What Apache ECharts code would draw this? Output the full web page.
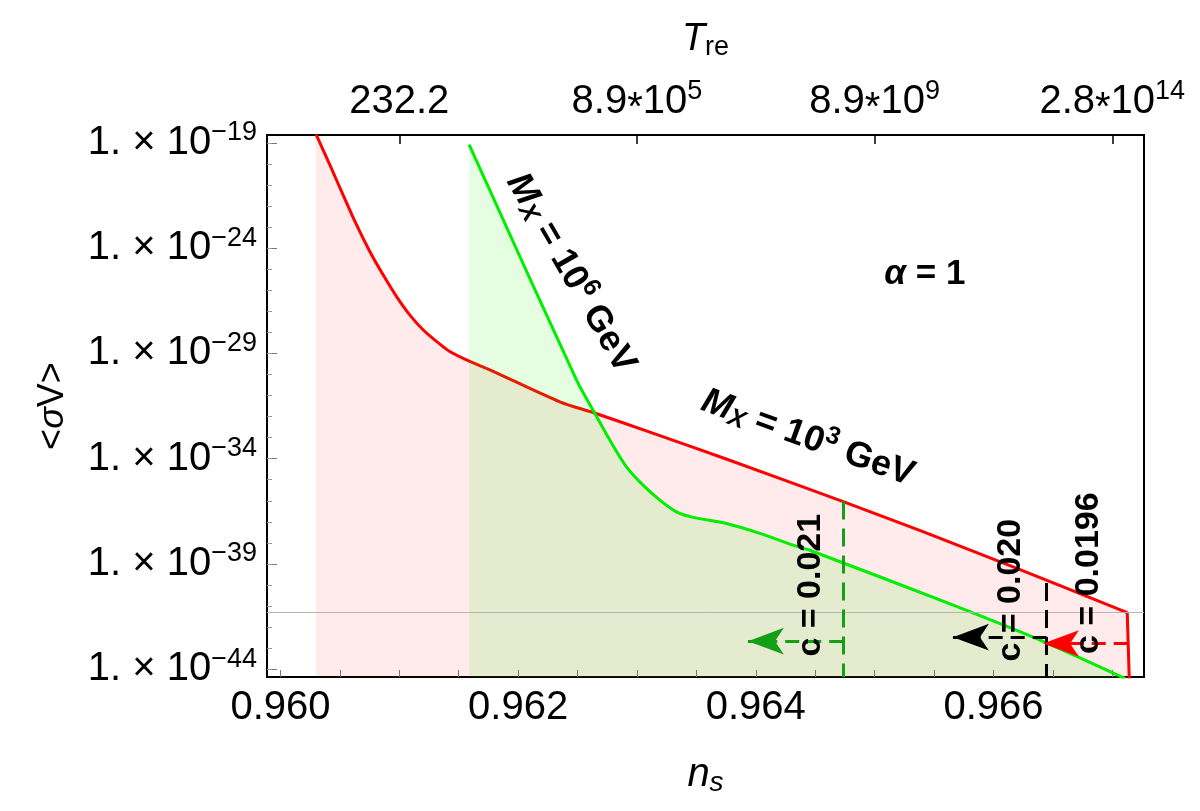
<!DOCTYPE html>
<html>
<head>
<meta charset="utf-8">
<script src="https://cdn.jsdelivr.net/npm/echarts@6/dist/echarts.min.js"></script>
<style>
  html, body { margin: 0; padding: 0; background: #fff; }
  #chart { width: 1200px; height: 811px; }
</style>
</head>
<body>
<div id="chart"></div>
<script>
var FONT = '"Liberation Sans", Arial, Helvetica, sans-serif';

// M_X = 10^3 GeV : n_s and log10 <σv>
var redNs  = [0.96030, 0.960415, 0.960527, 0.960640, 0.960752, 0.960864, 0.960976, 0.961088, 0.961200,
              0.961313, 0.961425, 0.961593, 0.961762, 0.962351, 0.962631, 0.963109, 0.963757, 0.964736,
              0.965407, 0.966139, 0.967126, 0.967143];
var redLog = [-18.60, -20.04, -21.47, -22.89, -24.16, -25.27, -26.29, -27.17, -27.88,
              -28.43, -28.91, -29.38, -29.78, -31.30, -31.81, -32.74, -34.03, -36.04,
              -37.47, -39.08, -41.31, -44.45];

// M_X = 10^6 GeV
var greenNs  = [0.961588, 0.962492, 0.962631, 0.962772, 0.962912, 0.963052, 0.963193, 0.963333,
                0.963473, 0.963754, 0.964035, 0.964315, 0.964455, 0.965662, 0.966392, 0.967110];
var greenLog = [-19.09, -30.27, -31.70, -33.12, -34.39, -35.26, -35.97, -36.53,
                -36.79, -37.08, -37.55, -38.11, -38.35, -40.96, -42.62, -44.45];

// axes
var nsMin = 0.959887, nsMax = 0.967267;
var logMin = -44.37, logMax = -18.63;
var nsTicks = [0.960, 0.962, 0.964, 0.966];
var nsMinorTicks = [0.9600, 0.9605, 0.9610, 0.9615, 0.9620, 0.9625, 0.9630, 0.9635,
                    0.9640, 0.9645, 0.9650, 0.9655, 0.9660, 0.9665, 0.9670];
var treTicks = [0.961, 0.963, 0.965, 0.967];
var treMant = ['232.2', '8.9', '8.9', '2.8'];
var treExp  = ['', '5', '9', '14'];
var sigmaTicks = [-44, -39, -34, -29, -24, -19];
var sigmaMinorTicks = [-44, -43, -42, -41, -40, -39, -38, -37, -36, -35, -34, -33, -32,
                       -31, -30, -29, -28, -27, -26, -25, -24, -23, -22, -21, -20, -19];
var refLog = -41.28;

// c cuts: vertical dashed line, horizontal arrow (tip), rotated text
var cutNs     = [0.964736, 0.966448, 0.967130];
var cutTop    = [-36.04, -39.90, null];
var arrowLog  = [-42.67, -42.48, -42.78];
var arrowTip  = [0.963934, 0.965659, 0.966417];
var cutText   = ['c = 0.021', 'c = 0.020', 'c = 0.0196'];
var cutTextNs  = [0.964464, 0.966147, 0.966804];
var cutTextLog = [-40.01, -40.25, -39.44];
var cutColors = ['#14a014', '#000000', '#ff0000'];

// other annotations: M_X = 10^6, M_X = 10^3, alpha
var noteNs  = [0.962444, 0.964439, 0.965423];
var noteLog = [-25.19, -33.03, -25.24];

function zip(a, b) { return a.map(function (v, i) { return [v, b[i]]; }); }
var redPts = zip(redNs, redLog);

var richNum = {
  b: { fontSize: 40, fontFamily: FONT, color: '#000', lineHeight: 56 },
  st: { fontSize: 40, fontFamily: FONT, color: '#000', padding: [13, 0, 0, 0] },
  s: { fontSize: 27, fontFamily: FONT, color: '#000', padding: [0, 0, 20, 0] }
};
var richBold = {
  mi: { fontSize: 36, fontWeight: 'bold', fontStyle: 'italic', fontFamily: FONT, color: '#000' },
  mx: { fontSize: 25, fontWeight: 'bold', fontStyle: 'italic', fontFamily: FONT, color: '#000', padding: [14, 0, 0, 0] },
  b:  { fontSize: 36, fontWeight: 'bold', fontFamily: FONT, color: '#000' },
  sp: { fontSize: 25, fontWeight: 'bold', fontFamily: FONT, color: '#000', padding: [0, 0, 20, 0] },
  a:  { fontSize: 35, fontWeight: 'bold', fontStyle: 'italic', fontFamily: FONT, color: '#000' },
  c:  { fontSize: 35, fontWeight: 'bold', fontFamily: FONT, color: '#000' },
  t:  { fontSize: 34, fontWeight: 'bold', fontFamily: FONT, color: '#000' }
};

var noteFormat = [
  '{mi|M}{mx|X}{b| = 10}{sp|6}{b| GeV}',
  '{mi|M}{mx|X}{b| = 10}{sp|3}{b| GeV}',
  '{a|\u03b1}{c| = 1}'
];
var noteRotate = [-60, -20, 0];

var notes = noteNs.map(function (x, i) {
  return { value: [x, noteLog[i]], label: { formatter: noteFormat[i], rotate: noteRotate[i] } };
});
cutTextNs.forEach(function (x, i) {
  notes.push({ value: [x, cutTextLog[i]], label: { formatter: '{t|' + cutText[i] + '}', rotate: 90 } });
});

var marks = [
  { yAxis: refLog, lineStyle: { color: '#b4b4b4', width: 1, type: 'solid' } }
];
cutNs.forEach(function (x, i) {
  if (cutTop[i] !== null) {
    marks.push([
      { coord: [x, cutTop[i]], lineStyle: { color: cutColors[i], width: 3, type: [18, 9] } },
      { coord: [x, logMin] }
    ]);
  }
  marks.push([
    { coord: [x, arrowLog[i]], lineStyle: { color: cutColors[i], width: 3, type: [14, 8] }, itemStyle: { color: cutColors[i] } },
    { coord: [arrowTip[i], arrowLog[i]], symbol: 'arrow', symbolSize: [20, 36], itemStyle: { color: cutColors[i] } }
  ]);
});

var chart = echarts.init(document.getElementById('chart'));
chart.setOption({
  animation: false,
  backgroundColor: '#fff',
  grid: { left: 267, right: 56, top: 135, bottom: 134, show: true, borderColor: '#000', borderWidth: 2 },
  xAxis: [{
    type: 'value', position: 'bottom', min: nsMin, max: nsMax,
    splitLine: { show: false }, axisLine: { show: false },
    axisTick: { show: true, inside: true, length: 7, customValues: nsMinorTicks, lineStyle: { color: '#777' } },
    axisLabel: {
      customValues: nsTicks, margin: 11, fontSize: 40, fontFamily: FONT, color: '#000',
      formatter: function (v) { return v.toFixed(3); }
    },
    name: '{i|n}{s|s}', nameLocation: 'middle', nameGap: 76,
    nameTextStyle: {
      rich: {
        i: { fontSize: 40, fontStyle: 'italic', fontFamily: FONT, color: '#000' },
        s: { fontSize: 28, fontStyle: 'italic', fontFamily: FONT, color: '#000', padding: [16, 0, 0, 0] }
      }
    }
  }, {
    type: 'value', position: 'top', min: nsMin, max: nsMax,
    splitLine: { show: false }, axisLine: { show: false },
    axisTick: { show: true, inside: true, length: 9, customValues: treTicks, lineStyle: { color: '#000', width: 1.5 } },
    axisLabel: {
      customValues: treTicks, margin: 5, rich: richNum,
      formatter: function (v) {
        for (var i = 0; i < treTicks.length; i++) {
          if (Math.abs(v - treTicks[i]) < 1e-6) {
            if (!treExp[i]) return '{b|' + treMant[i] + '}';
            return '{b|' + treMant[i] + '}{st|*}{b|10}{s|' + treExp[i] + '}';
          }
        }
        return '';
      }
    },
    name: '{i|T}{s|re}', nameLocation: 'middle', nameGap: 74,
    nameTextStyle: {
      rich: {
        i: { fontSize: 38, fontStyle: 'italic', fontFamily: FONT, color: '#000' },
        s: { fontSize: 27, fontFamily: FONT, color: '#000', padding: [16, 0, 0, 0] }
      }
    }
  }],
  yAxis: [{
    type: 'value', min: logMin, max: logMax,
    splitLine: { show: false }, axisLine: { show: false },
    axisTick: { show: true, inside: true, length: 10, customValues: sigmaTicks, lineStyle: { color: '#777' } },
    axisLabel: {
      customValues: sigmaTicks, margin: 10, rich: richNum,
      formatter: function (v) { return '{b|1. \u00d7 10}{s|\u2212' + Math.abs(Math.round(v)) + '}'; }
    },
    name: '<{g|\u03c3}V>', nameLocation: 'middle', nameGap: 196, nameRotate: 90,
    nameTextStyle: {
      fontSize: 36, fontFamily: FONT, color: '#000',
      rich: { g: { fontSize: 36, fontStyle: 'italic', fontFamily: FONT, color: '#000' } }
    }
  }, {
    type: 'value', min: logMin, max: logMax, position: 'left', offset: 0,
    splitLine: { show: false }, axisLine: { show: false }, axisLabel: { show: false },
    axisTick: { show: true, inside: true, length: 5, customValues: sigmaMinorTicks, lineStyle: { color: '#999' } }
  }],
  series: [{
    // red fill
    name: 'Mx = 10^3 GeV fill', type: 'line', data: redPts,
    showSymbol: false, symbol: 'none', clip: true,
    lineStyle: { width: 0, color: 'rgba(0,0,0,0)' },
    areaStyle: { color: 'rgba(255,0,0,0.115)', origin: 'start' },
    z: 2
  }, {
    // red curve
    name: 'Mx = 10^3 GeV', type: 'line', data: redPts.slice(0, -1),
    showSymbol: false, symbol: 'none', clip: true, smooth: 0.3,
    lineStyle: { color: '#ff0000', width: 3 },
    z: 2
  }, {
    // red cut-off edge
    name: 'Mx = 10^3 GeV edge', type: 'line', data: redPts.slice(-2),
    showSymbol: false, symbol: 'none', clip: true,
    lineStyle: { color: '#ff0000', width: 3 },
    z: 2
  }, {
    name: 'Mx = 10^6 GeV', type: 'line', data: zip(greenNs, greenLog),
    showSymbol: false, symbol: 'none', clip: true, smooth: 0.3,
    lineStyle: { color: '#00ee00', width: 3 },
    areaStyle: { color: 'rgba(30,235,0,0.17)', origin: 'start' },
    z: 3
  }, {
    name: 'notes', type: 'scatter', data: notes, symbolSize: 1,
    itemStyle: { color: 'rgba(0,0,0,0)', opacity: 1 },
    label: { show: true, position: 'inside', color: '#000', opacity: 1, textBorderWidth: 0, rich: richBold },
    silent: true, z: 5,
    markLine: {
      silent: true, symbol: ['none', 'none'], label: { show: false },
      emphasis: { disabled: true },
      data: marks
    }
  }]
});
</script>
</body>
</html>
